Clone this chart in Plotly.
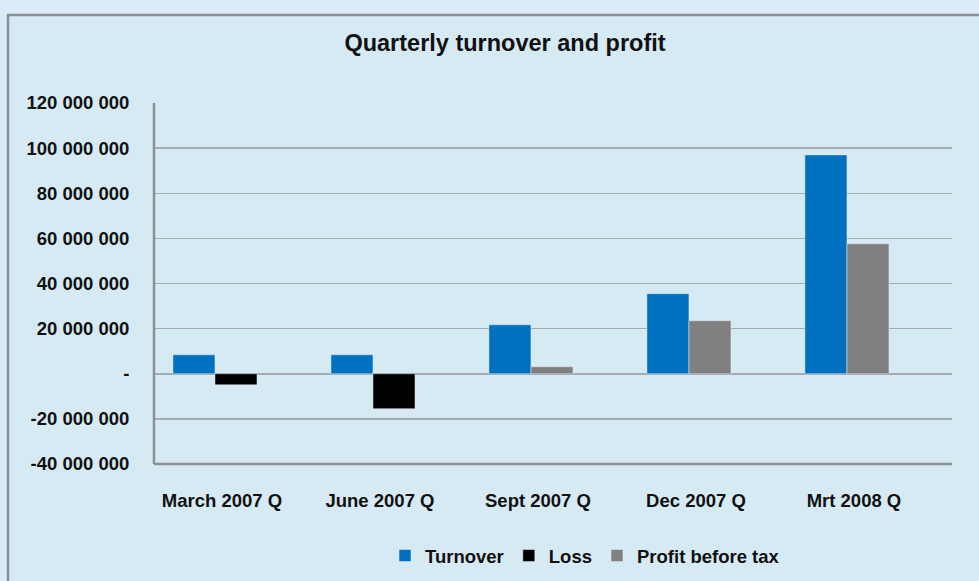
import plotly.graph_objects as go

categories = ["March 2007 Q", "June 2007 Q", "Sept 2007 Q", "Dec 2007 Q", "Mrt 2008 Q"]
turnover = [8.4e6, 8.4e6, 21.7e6, 35.5e6, 97.0e6]
loss = [-4.9e6, -15.5e6, None, None, None]
profit = [None, None, 3.1e6, 23.5e6, 57.6e6]
y_tickvals = [-40e6, -20e6, 0, 20e6, 40e6, 60e6, 80e6, 100e6, 120e6]
y_ticktext = ["-40 000 000", "-20 000 000", "-", "20 000 000", "40 000 000",
              "60 000 000", "80 000 000", "100 000 000", "120 000 000"]

FONT = "Liberation Sans, Arial, sans-serif"

fig = go.Figure()
fig.add_trace(go.Bar(name="<b>Turnover</b>", x=categories, y=turnover,
                     marker_color="#0070c0", offsetgroup="a"))
fig.add_trace(go.Bar(name="<b>Loss</b>", x=categories, y=loss,
                     marker_color="#000000", offsetgroup="b"))
fig.add_trace(go.Bar(name="<b>Profit before tax</b>", x=categories, y=profit,
                     marker_color="#808080", offsetgroup="b"))

W, H = 979, 581
L, R, T, B = 154, 27, 103, 117
pw, ph = W - L - R, H - T - B

def px(x):
    return (x - L) / pw

def py(y):
    return (H - B - y) / ph

fig.add_shape(type="rect", xref="paper", yref="paper",
              x0=px(8), x1=px(1000), y0=py(15), y1=py(620),
              fillcolor="#d6eaf4", line=dict(color="#8b9297", width=2.5),
              layer="below")

fig.update_layout(
    width=W, height=H,
    margin=dict(l=L, r=R, t=T, b=B, autoexpand=False),
    paper_bgcolor="#dcebfa",
    plot_bgcolor="rgba(0,0,0,0)",
    barmode="group",
    bargap=0.468,
    bargroupgap=0,
    hovermode=False,
    font=dict(family=FONT, size=18.5, color="#111111"),
    title=dict(text="<b>Quarterly turnover and profit</b>",
               x=px(505), xref="paper", xanchor="center",
               y=1 - 43 / H, yanchor="middle",
               font=dict(family=FONT, size=23.5, color="#111111")),
    showlegend=True,
    legend=dict(orientation="h", x=px(585), xanchor="center",
                yref="container", y=1 - 556 / H, yanchor="middle",
                font=dict(family=FONT, size=18.5, color="#111111"),
                bgcolor="rgba(0,0,0,0)"),
)

fig.update_xaxes(
    type="category",
    range=[-0.386, 4.665],
    automargin=False,
    showgrid=False,
    showline=False,
    ticks="outside", ticklen=20, tickcolor="rgba(0,0,0,0)",
    ticklabelshift=7,
    tickfont=dict(family=FONT, size=18.5, color="#111111"),
    tickprefix="<b>", ticksuffix="</b>",
)
fig.update_yaxes(
    range=[-40e6, 120e6],
    automargin=False,
    tickvals=y_tickvals,
    ticktext=["<b>" + t + "</b>" for t in y_ticktext],
    showgrid=True, gridcolor="#a3abb1", gridwidth=1.5,
    zeroline=True, zerolinecolor="#a3abb1", zerolinewidth=1.5,
    showline=False,
    ticks="outside", ticklen=20, tickcolor="rgba(0,0,0,0)",
    tickfont=dict(family=FONT, size=18.5, color="#111111"),
)

fig.add_shape(type="line", xref="paper", yref="paper", x0=0, x1=0, y0=0, y1=1,
              line=dict(color="#8b9297", width=2.5))
fig.add_shape(type="line", xref="paper", yref="paper", x0=0, x1=1, y0=0, y1=0,
              line=dict(color="#8b9297", width=2.5))

fig.write_html("out.html",
               config={"displayModeBar": False, "staticPlot": True},
               post_script="document.body.style.margin='0px';"
                           "document.body.style.background='#dcebfa';")
